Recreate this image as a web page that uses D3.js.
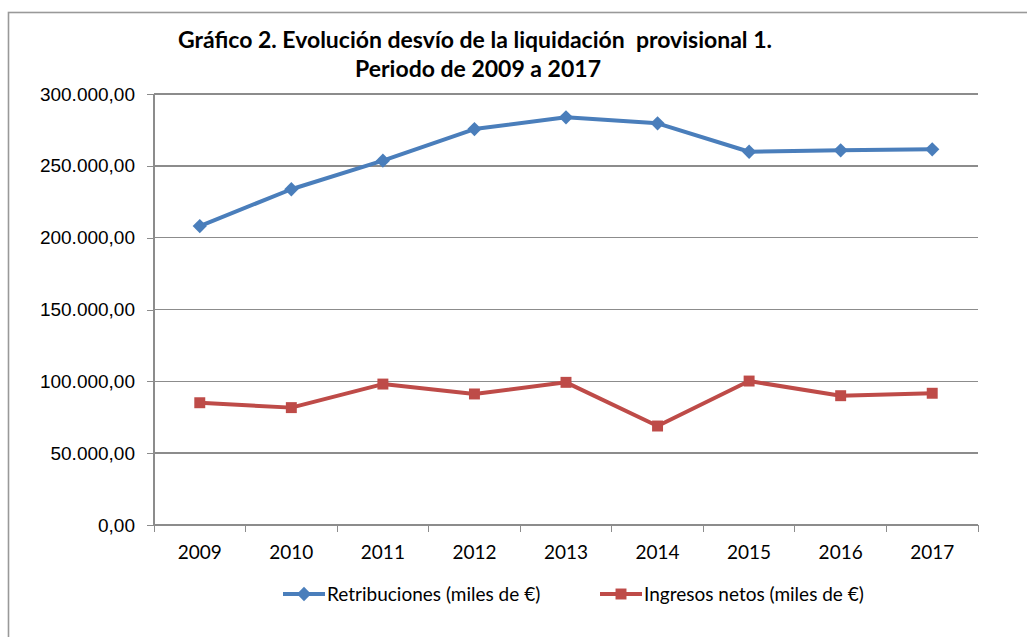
<!DOCTYPE html>
<html>
<head>
<meta charset="utf-8">
<style>
    body { margin: 0; background: #fff; }
    svg { font-family: Lato, "Open Sans", sans-serif; }
    .axis path { display: none; }
    .axis line { stroke: #8c8c8c; shape-rendering: crispEdges; }
    .axis text { fill: #000; font-size: 19px; }
    .grid line { stroke: #8c8c8c; stroke-width: 1.4; shape-rendering: crispEdges; }
</style>
</head>
<body>
<script src="https://d3js.org/d3.v7.min.js"></script>
<script>
    var years = ["2009", "2010", "2011", "2012", "2013", "2014", "2015", "2016", "2017"];
    var retribuciones = [208100, 233700, 253600, 275600, 283800, 279600, 259800, 260800, 261500];
    var ingresos = [85100, 81700, 98100, 91200, 99300, 68900, 100200, 90000, 91700];
    var yTicks = [0, 50000, 100000, 150000, 200000, 250000, 300000];
    var seriesNames = ["Retribuciones (miles de €)", "Ingresos netos (miles de €)"];
    var colors = ["#4a7ebb", "#be4b48"];

    var width = 1027, height = 637;
    var margin = { left: 154, right: 49, top: 94, bottom: 112 };

    var svg = d3.select("body").append("svg")
        .attr("width", width)
        .attr("height", height);

    // marco exterior del gráfico
    svg.append("rect")
        .attr("x", 8.5).attr("y", 12.5)
        .attr("width", width + 20).attr("height", height + 20)
        .attr("fill", "none")
        .attr("stroke", "#999")
        .attr("stroke-width", 1.6);

    var x = d3.scaleBand()
        .domain(years)
        .range([margin.left, width - margin.right]);

    var y = d3.scaleLinear()
        .domain([0, 300000])
        .range([height - margin.bottom, margin.top]);

    var fmt = function (v) {
        return d3.format(",.2f")(v).replace(/,/g, "#").replace(".", ",").replace(/#/g, ".");
    };

    // líneas de cuadrícula
    svg.append("g")
        .attr("class", "grid")
        .selectAll("line")
        .data(yTicks.slice(1))
        .enter().append("line")
        .attr("x1", margin.left)
        .attr("x2", width - margin.right)
        .attr("y1", function (d) { return y(d); })
        .attr("y2", function (d) { return y(d); });

    // eje Y
    var yAxis = svg.append("g")
        .attr("class", "axis")
        .attr("transform", "translate(" + margin.left + ",0)")
        .call(d3.axisLeft(y).tickValues(yTicks).tickSize(7).tickPadding(12).tickFormat(fmt));
    yAxis.append("line")
        .attr("y1", y(0)).attr("y2", y(300000))
        .attr("stroke", "#8c8c8c").attr("stroke-width", 1.4);

    // eje X
    var xAxis = svg.append("g")
        .attr("class", "axis")
        .attr("transform", "translate(0," + y(0) + ")");
    xAxis.append("line")
        .attr("x1", margin.left).attr("x2", width - margin.right)
        .attr("stroke", "#8c8c8c").attr("stroke-width", 1.4);
    xAxis.selectAll(".tk")
        .data(d3.range(years.length + 1))
        .enter().append("line")
        .attr("class", "tk")
        .attr("x1", function (i) { return margin.left + i * x.step(); })
        .attr("x2", function (i) { return margin.left + i * x.step(); })
        .attr("y1", 0).attr("y2", 7);
    xAxis.selectAll("text")
        .data(years)
        .enter().append("text")
        .attr("x", function (d) { return x(d) + x.bandwidth() / 2; })
        .attr("y", 34)
        .attr("text-anchor", "middle")
        .text(function (d) { return d; });

    var line = d3.line()
        .x(function (d, i) { return x(years[i]) + x.bandwidth() / 2; })
        .y(function (d) { return y(d); });

    var diamond = d3.symbol().type(d3.symbolDiamond2).size(130);
    var square = d3.symbol().type(d3.symbolSquare).size(120);
    var shapes = [diamond, square];

    [retribuciones, ingresos].forEach(function (data, k) {
        svg.append("path")
            .datum(data)
            .attr("fill", "none")
            .attr("stroke", colors[k])
            .attr("stroke-width", 4)
            .attr("stroke-linejoin", "round")
            .attr("d", line);

        svg.selectAll(".m" + k)
            .data(data)
            .enter().append("path")
            .attr("class", "m" + k)
            .attr("transform", function (d, i) {
                return "translate(" + (x(years[i]) + x.bandwidth() / 2) + "," + y(d) + ")";
            })
            .attr("fill", colors[k])
            .attr("d", shapes[k]);
    });

    // título
    var title = svg.append("text")
        .attr("text-anchor", "middle")
        .attr("font-weight", "bold")
        .attr("font-size", "23px")
        .attr("fill", "#000");
    title.append("tspan").attr("x", 475).attr("y", 48).attr("xml:space", "preserve")
        .text("Gráfico 2. Evolución desvío de la liquidación  provisional 1.");
    title.append("tspan").attr("x", 478).attr("y", 77)
        .text("Periodo de 2009 a 2017");

    // leyenda
    var legendX = [283, 600];
    var legend = svg.selectAll(".legend")
        .data(seriesNames)
        .enter().append("g")
        .attr("class", "legend")
        .attr("transform", function (d, i) { return "translate(" + legendX[i] + ",594)"; });
    legend.append("line")
        .attr("x1", 0).attr("x2", 42)
        .attr("stroke", function (d, i) { return colors[i]; })
        .attr("stroke-width", 4);
    legend.append("path")
        .attr("transform", "translate(21,0)")
        .attr("fill", function (d, i) { return colors[i]; })
        .attr("d", function (d, i) { return shapes[i](); });
    legend.append("text")
        .attr("x", 44)
        .attr("y", 7)
        .attr("font-size", "19px")
        .attr("fill", "#000")
        .text(function (d) { return d; });
</script>
</body>
</html>
